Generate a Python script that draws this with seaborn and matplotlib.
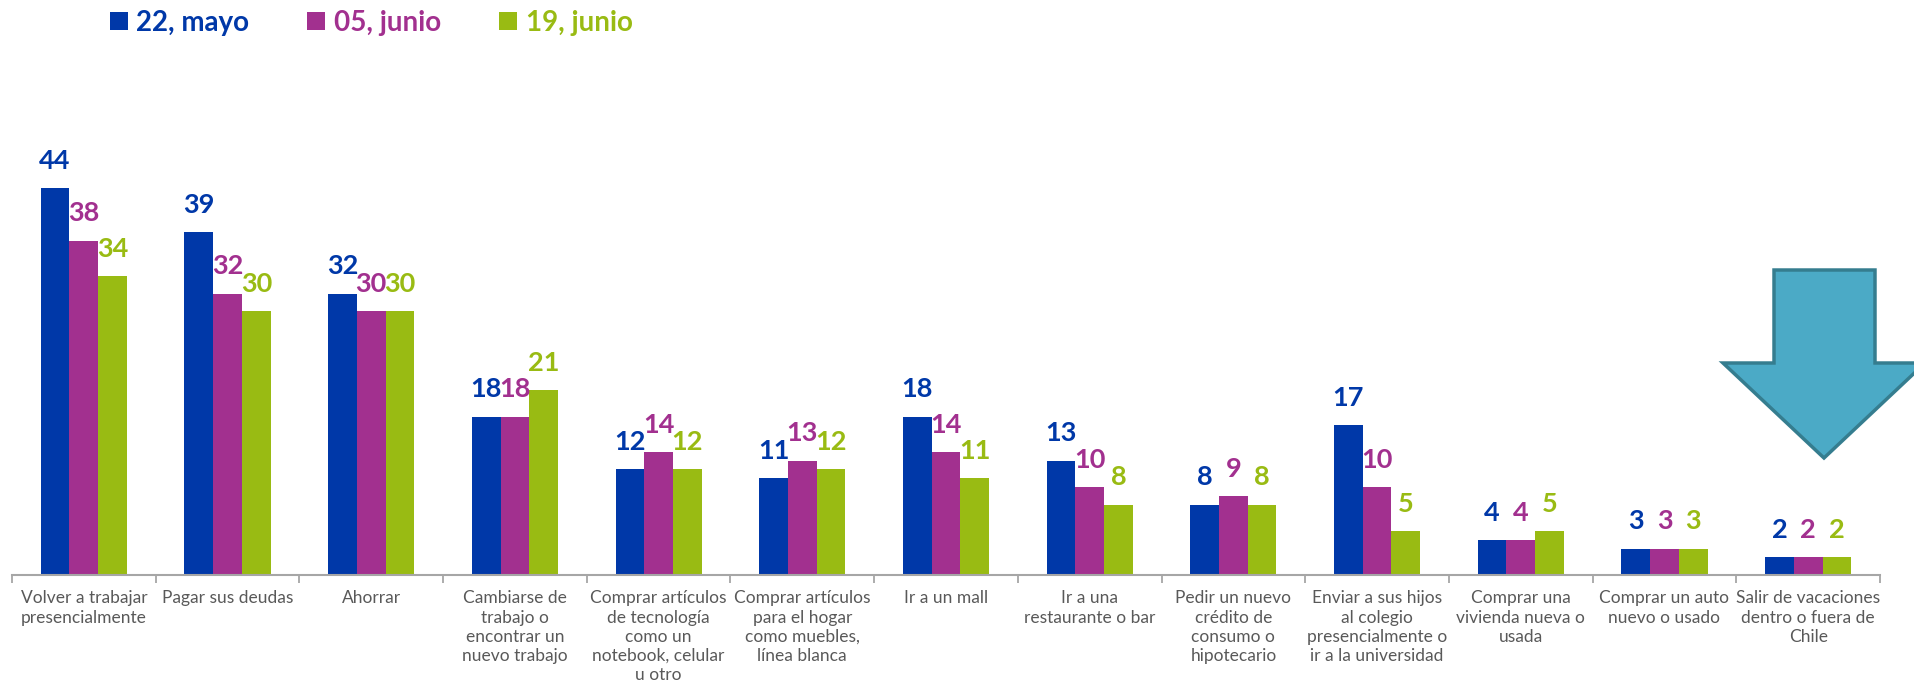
import matplotlib
matplotlib.use("Agg")
import matplotlib.pyplot as plt
import seaborn as sns
import pandas as pd
from matplotlib.patches import Polygon, Patch
from matplotlib.ticker import FixedLocator

categories = [
    "Volver a trabajar\npresencialmente",
    "Pagar sus deudas",
    "Ahorrar",
    "Cambiarse de\ntrabajo o\nencontrar un\nnuevo trabajo",
    "Comprar artículos\nde tecnología\ncomo un\nnotebook, celular\nu otro",
    "Comprar artículos\npara el hogar\ncomo muebles,\nlínea blanca",
    "Ir a un mall",
    "Ir a una\nrestaurante o bar",
    "Pedir un nuevo\ncrédito de\nconsumo o\nhipotecario",
    "Enviar a sus hijos\nal colegio\npresencialmente o\nir a la universidad",
    "Comprar una\nvivienda nueva o\nusada",
    "Comprar un auto\nnuevo o usado",
    "Salir de vacaciones\ndentro o fuera de\nChile",
]
series_names = ["22, mayo", "05, junio", "19, junio"]
mayo22 = [44, 39, 32, 18, 12, 11, 18, 13, 8, 17, 4, 3, 2]
junio05 = [38, 32, 30, 18, 14, 13, 14, 10, 9, 10, 4, 3, 2]
junio19 = [34, 30, 30, 21, 12, 12, 11, 8, 8, 5, 5, 3, 2]

colors = ["#0038A8", "#A2308F", "#99BB13"]

rows = []
for name, vals in zip(series_names, [mayo22, junio05, junio19]):
    for c, v in zip(categories, vals):
        rows.append({"cat": c, "serie": name, "val": v})
df = pd.DataFrame(rows)

sns.set_theme(style="white")
plt.rcParams["font.family"] = ["Lato", "DejaVu Sans"]

W, H = 1914, 697
fig = plt.figure(figsize=(W / 100, H / 100), dpi=100)
ax = fig.add_axes([12 / W, 1 - 575 / H, (1880 - 12) / W, 475 / H])

sns.barplot(data=df, x="cat", y="val", hue="serie", order=categories,
            hue_order=series_names, palette=colors, saturation=1,
            width=0.6, ax=ax, legend=False, edgecolor="none")

for cont, col in zip(ax.containers, colors):
    ax.bar_label(cont, labels=[f"{int(v)}" for v in cont.datavalues],
                 padding=11, color=col, fontsize=19.5, fontweight="bold")

ax.set_xlim(-0.5, len(categories) - 0.5)
ax.set_ylim(0, 54)
ax.set_xlabel("")
ax.set_ylabel("")
ax.set_yticks([])
for s in ["top", "right", "left"]:
    ax.spines[s].set_visible(False)
ax.spines["bottom"].set_color("#A6A6A6")
ax.spines["bottom"].set_linewidth(1.5)

ax.xaxis.set_minor_locator(FixedLocator([i - 0.5 for i in range(len(categories) + 1)]))
ax.tick_params(axis="x", which="minor", bottom=True, length=6, width=1.3, color="#A6A6A6")
ax.tick_params(axis="x", which="major", bottom=True, length=0, pad=11,
               labelsize=12.5, labelcolor="#595959")
for lab in ax.get_xticklabels():
    lab.set_linespacing(1.25)
    lab.set_verticalalignment("top")

handles = [Patch(facecolor=c, edgecolor="none") for c in colors]
leg = fig.legend(handles, series_names, loc="upper left",
                 bbox_to_anchor=(104 / W, 1 - 4 / H), ncol=3, frameon=False,
                 prop={"family": ["Lato", "DejaVu Sans"], "weight": "bold", "size": 20},
                 handlelength=0.65, handleheight=0.65, handletextpad=0.3,
                 columnspacing=2.1, borderaxespad=0, borderpad=0.2)
for t, c in zip(leg.get_texts(), colors):
    t.set_color(c)

# Decorative arrow
pts = [(1774, 270), (1875, 270), (1875, 363), (1925, 363), (1824, 458),
       (1723, 363), (1774, 363)]
arrow = Polygon([(x / W, 1 - y / H) for x, y in pts], closed=True,
                transform=fig.transFigure, facecolor="#4BAAC6",
                edgecolor="#357D8F", linewidth=2.5, clip_on=False)
fig.patches.append(arrow)

fig.savefig("out.png", dpi=100)
